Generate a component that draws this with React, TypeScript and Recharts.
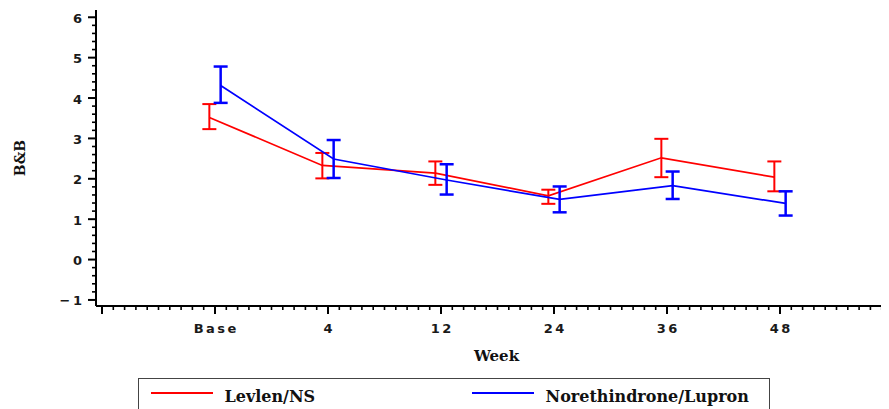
import React from 'react';
import { LineChart, Line, XAxis, YAxis, ErrorBar, Legend, Label } from 'recharts';

// ---- data ----
const weeks = ['Base', '4', '12', '24', '36', '48'];
const levlenMean = [3.52, 2.33, 2.14, 1.58, 2.52, 2.04];
const levlenLow = [3.23, 2.01, 1.85, 1.38, 2.04, 1.69];
const levlenHigh = [3.85, 2.64, 2.43, 1.73, 2.99, 2.43];
const noreMean = [4.31, 2.49, 1.97, 1.49, 1.83, 1.39];
const noreLow = [3.88, 2.02, 1.61, 1.17, 1.5, 1.09];
const noreHigh = [4.78, 2.96, 2.36, 1.81, 2.18, 1.69];
const xTickLabels = ['', 'Base', '4', '12', '24', '36', '48', ''];
const yMajorTicks = [-1, 0, 1, 2, 3, 4, 5, 6];

const DODGE = 0.05;
const levlenData = weeks.map((w, i) => ({
  x: i + 1 - DODGE,
  week: w,
  mean: levlenMean[i],
  err: [levlenMean[i] - levlenLow[i], levlenHigh[i] - levlenMean[i]],
}));
const noreData = weeks.map((w, i) => ({
  x: i + 1 + DODGE,
  week: w,
  mean: noreMean[i],
  err: [noreMean[i] - noreLow[i], noreHigh[i] - noreMean[i]],
}));

const xTicks = Array.from({ length: 71 }, (_, i) => i / 10);
const yTicks = Array.from({ length: 36 }, (_, i) => Math.round((-1 + i * 0.2) * 10) / 10);

const tickFont = {
  fontFamily: '"DejaVu Sans", sans-serif',
  fontWeight: 'bold' as const,
  fontSize: 13,
  letterSpacing: 2.5,
  fill: '#1a1a1a',
};

const isMajor = (v: number) => Math.abs(v - Math.round(v)) < 1e-6;

const XTick = (props: any) => {
  const { x, y, payload } = props;
  const v = payload.value as number;
  const major = isMajor(v);
  const label = major ? xTickLabels[Math.round(v)] ?? '' : '';
  return (
    <g>
      <line x1={x} x2={x} y1={y} y2={y + (major ? 8 : 4)} stroke="#000" strokeWidth={major ? 2 : 1.6} />
      {label && (
        <text x={x + 1.25} y={y + 22} textAnchor="middle" dominantBaseline="central" style={tickFont}>
          {label}
        </text>
      )}
    </g>
  );
};

const YTick = (props: any) => {
  const { x, y, payload } = props;
  const v = payload.value as number;
  const major = isMajor(v);
  const label = major && yMajorTicks.includes(Math.round(v)) ? (v < 0 ? '\u2212' + Math.abs(Math.round(v)) : String(Math.round(v))) : '';
  return (
    <g>
      <line x1={x - (major ? 8 : 4)} x2={x} y1={y} y2={y} stroke="#000" strokeWidth={major ? 2 : 1.6} />
      {label && (
        <text x={x - 11.5} y={y + 1} textAnchor="end" dominantBaseline="central" style={tickFont}>
          {label}
        </text>
      )}
    </g>
  );
};

const serifBold = {
  fontFamily: '"DejaVu Serif", serif',
  fontWeight: 'bold' as const,
  fill: '#111',
};

const WeekLabel = (props: any) => {
  const vb = props.viewBox || {};
  return (
    <text x={vb.x + vb.width / 2 + 2} y={vb.y + 50} textAnchor="middle" dominantBaseline="central" style={{ ...serifBold, fontSize: 15 }}>
      Week
    </text>
  );
};

const BBLabel = (props: any) => {
  const vb = props.viewBox || {};
  const cx = 11.5;
  const cy = vb.y + vb.height / 2;
  return (
    <text x={cx} y={cy} textAnchor="middle" dominantBaseline="central" transform={`rotate(-90 ${cx} ${cy})`} style={{ ...serifBold, fontSize: 14 }}>
      B&amp;B
    </text>
  );
};

const itemLeft = [13, 334];

const LegendBox = (props: any) => {
  const payload = props.payload || [];
  return (
    <div
      style={{
        position: 'relative',
        width: 632,
        height: 50,
        border: '1.5px solid #444',
        boxSizing: 'border-box',
        background: '#fff',
      }}
    >
      {payload.map((p: any, i: number) => (
        <div key={i} style={{ position: 'absolute', left: itemLeft[i] - 1.5, top: 0, height: 34, display: 'flex', alignItems: 'center' }}>
          <div style={{ width: 62, height: 2, background: p.color, marginTop: -6 }} />
          <span
            style={{
              marginLeft: 12,
              fontFamily: '"DejaVu Serif", serif',
              fontWeight: 'bold',
              fontSize: 16,
              color: '#111',
              whiteSpace: 'nowrap',
            }}
          >
            {p.value}
          </span>
        </div>
      ))}
    </div>
  );
};

export default function App() {
  return (
    <div style={{ width: 881, height: 401, overflow: 'hidden', background: '#fff' }}>
      <LineChart width={900} height={401} margin={{ top: 2, right: 15, left: 0, bottom: 0 }}>
        <XAxis
          type="number"
          dataKey="x"
          domain={[-0.0531, 7]}
          allowDataOverflow
          ticks={xTicks}
          interval={0}
          tickSize={0}
          tickMargin={0}
          tickLine={false}
          tick={<XTick />}
          axisLine={{ stroke: '#000', strokeWidth: 2 }}
          height={103}
        >
          <Label content={<WeekLabel />} />
        </XAxis>
        <XAxis
          xAxisId="top"
          orientation="top"
          type="number"
          domain={[-0.0531, 7]}
          allowDataOverflow
          tick={false}
          tickLine={false}
          height={0}
          axisLine={{ stroke: '#000', strokeWidth: 2 }}
        />
        <YAxis
          type="number"
          domain={[-1.15, 6.18]}
          allowDataOverflow
          ticks={yTicks}
          interval={0}
          tickSize={0}
          tickMargin={0}
          tickLine={false}
          tick={<YTick />}
          axisLine={{ stroke: '#000', strokeWidth: 2 }}
          width={88}
        >
          <Label content={<BBLabel />} />
        </YAxis>
        <Legend
          layout="horizontal"
          verticalAlign="middle"
          align="center"
          wrapperStyle={{ left: 130, top: 370, width: 632, height: 50 }}
          content={<LegendBox />}
        />
        <Line
          data={levlenData}
          dataKey="mean"
          name="Levlen/NS"
          stroke="#ff0000"
          strokeWidth={1.7}
          dot={false}
          activeDot={false}
          isAnimationActive={false}
        >
          <ErrorBar dataKey="err" direction="y" width={7} stroke="#ff0000" strokeWidth={2} isAnimationActive={false} />
        </Line>
        <Line
          data={noreData}
          dataKey="mean"
          name="Norethindrone/Lupron"
          stroke="#0000ff"
          strokeWidth={1.7}
          dot={false}
          activeDot={false}
          isAnimationActive={false}
        >
          <ErrorBar dataKey="err" direction="y" width={7} stroke="#0000ff" strokeWidth={2.5} isAnimationActive={false} />
        </Line>
      </LineChart>
    </div>
  );
}
